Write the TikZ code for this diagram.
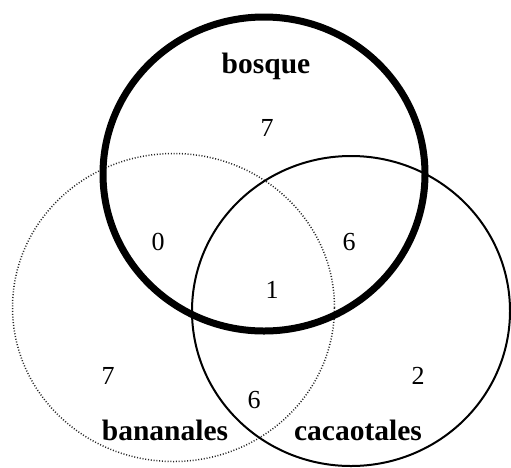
\documentclass[tikz,border=0pt]{standalone}
\usepackage{fontspec}
\setmainfont{Liberation Serif}
\begin{document}
\begin{tikzpicture}[x=1pt,y=-1pt,
  setlabel/.style={font=\fontsize{29.5}{31}\selectfont\bfseries, inner sep=0pt},
  numlabel/.style={font=\fontsize{26}{28}\selectfont, inner sep=0pt},
  bosqueline/.style={line width=7pt, black},
  cacaoline/.style={line width=2pt, black},
  bananaline/.style={line width=1.5pt, black!85, dash pattern=on 1pt off 1.8pt}]
\useasboundingbox (0,0) rectangle (511,467);
% circles
\draw[bananaline] (173.5,307.5) ellipse [x radius=161pt, y radius=154pt];
\draw[cacaoline] (351,311) ellipse [x radius=159pt, y radius=155pt];
\draw[bosqueline] (264,174) ellipse [x radius=161pt, y radius=157pt];
% set labels
\node[setlabel] (bosque) at (266,66) {bosque};
\node[setlabel] (bananales) at (165,430) {bananales};
\node[setlabel] (cacaotales) at (358,430) {cacaotales};
% region counts
\node[numlabel] (nb) at (267,128) {7};
\node[numlabel] (nbb) at (158,242) {0};
\node[numlabel] (nbc) at (349,242) {6};
\node[numlabel] (nall) at (272,290) {1};
\node[numlabel] (nban) at (108,376) {7};
\node[numlabel] (nbanc) at (254,400) {6};
\node[numlabel] (nc) at (418,376) {2};
\end{tikzpicture}
\end{document}
